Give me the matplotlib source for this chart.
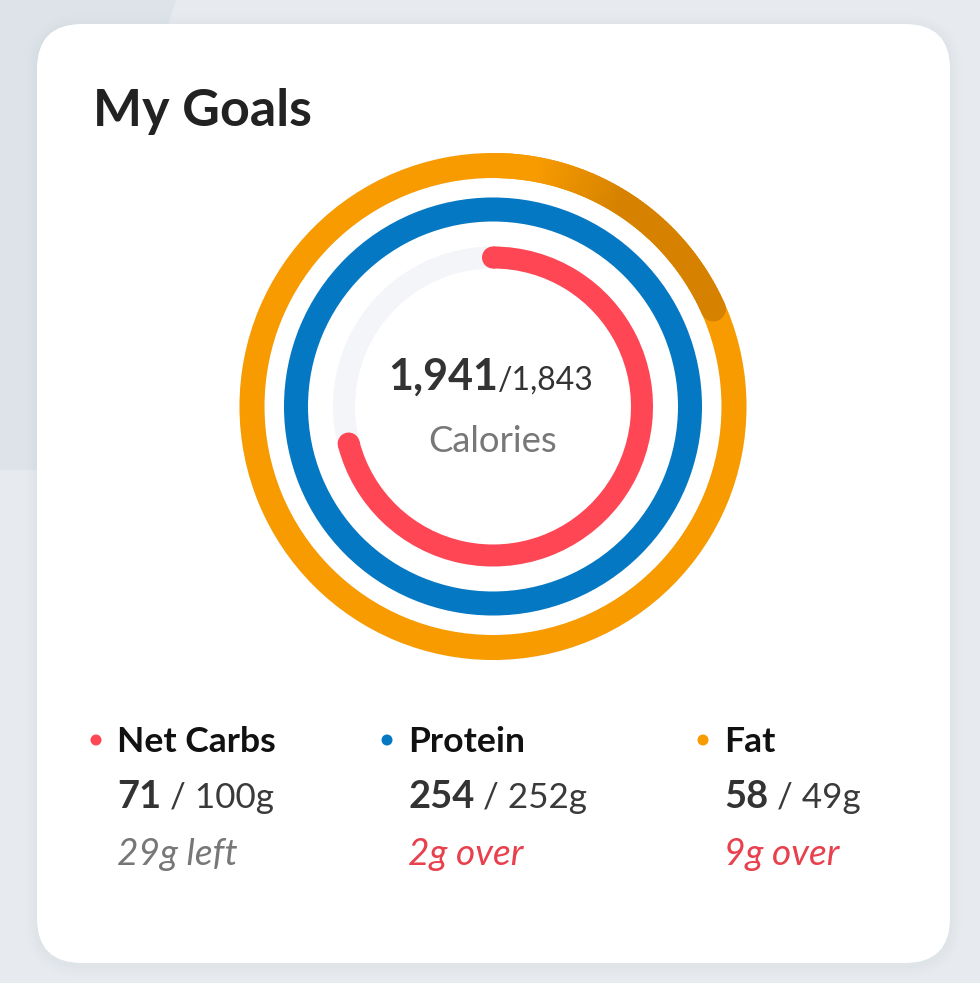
import numpy as np
import matplotlib
matplotlib.use("Agg")
import matplotlib.pyplot as plt
from matplotlib.patches import Wedge, Circle, FancyBboxPatch, Polygon
from matplotlib.colors import to_rgb

# ---------------- data ----------------
title = "My Goals"
nutrients = ["Net Carbs", "Protein", "Fat"]
consumed = [71, 254, 58]
goals = [100, 252, 49]
units = ["g", "g", "g"]
calories_consumed = 1941
calories_goal = 1843
calories_label = "Calories"

# ---------------- style ----------------
ring_colors = ["#FF4654", "#0478C3", "#F79B00"]
ring_dark = ["#D93440", "#035F9C", "#D68200"]
track_color = "#F3F5F9"
FONT = "Lato"

W, H = 980, 983
fig = plt.figure(figsize=(W / 100, H / 100), dpi=100)
fig.patch.set_facecolor("#E7EBEF")
ax = fig.add_axes([0, 0, 1, 1])
ax.set_xlim(0, W)
ax.set_ylim(H, 0)
ax.set_aspect("equal")
ax.axis("off")

PT = 0.72  # points per pixel at dpi 100

# background shapes
ax.add_patch(Polygon([(0, 0), (176, 0), (150, 80), (150, 470), (0, 470)],
                     closed=True, facecolor="#DDE3E9", edgecolor="none", zorder=0))

# card shadow + card
cx0, cy0, cx1, cy1 = 37, 24, 950, 963
for i, a in enumerate([0.018, 0.014, 0.010, 0.006]):
    g = 3 * (i + 1)
    ax.add_patch(FancyBboxPatch((cx0 - g, cy0 - g + 2), cx1 - cx0 + 2 * g, cy1 - cy0 + 2 * g,
                                boxstyle=f"round,pad=0,rounding_size={45 + g}",
                                facecolor="#8090A0", edgecolor="none", alpha=a, zorder=1))
ax.add_patch(FancyBboxPatch((cx0, cy0), cx1 - cx0, cy1 - cy0,
                            boxstyle="round,pad=0,rounding_size=45",
                            facecolor="white", edgecolor="none", zorder=2))

# title
ax.text(93, 126, title, fontsize=52 * PT, fontweight="bold", color="#222222",
        family=FONT, va="baseline", ha="left", zorder=5)

# ---------------- rings ----------------
cx, cy = 493, 406.5
radii = [149, 197, 241]     # mid radius, inner -> outer (carbs, protein, fat)
widths = [22, 24, 25]


def data_angle(phi):
    """visual clockwise angle from 12 o'clock -> data angle (y axis inverted)"""
    return phi - 90.0


def point(r, phi):
    a = np.deg2rad(data_angle(phi))
    return cx + r * np.cos(a), cy + r * np.sin(a)


def arc(r, w, phi0, phi1, color, z):
    ax.add_patch(Wedge((cx, cy), r + w / 2, data_angle(phi0), data_angle(phi1),
                       width=w, facecolor=color, edgecolor="none", zorder=z))
    for ph in (phi0, phi1):
        ax.add_patch(Circle(point(r, ph), w / 2, facecolor=color, edgecolor="none", zorder=z))


for i in range(3):
    r, w = radii[i], widths[i]
    frac = consumed[i] / goals[i]
    base = ring_colors[i]
    # track
    ax.add_patch(Wedge((cx, cy), r + w / 2, 0, 360, width=w, facecolor=track_color,
                       edgecolor="none", zorder=3))
    if frac < 1:
        arc(r, w, 0, frac * 360, base, 4)
    else:
        ax.add_patch(Wedge((cx, cy), r + w / 2, 0, 360, width=w, facecolor=base,
                           edgecolor="none", zorder=4))
        over = frac - 1
        if over > 0.05:
            end = over * 360
            c0, c1 = np.array(to_rgb(base)), np.array(to_rgb(ring_dark[i]))
            n = 80
            edges = np.linspace(0, end, n + 1)
            for k in range(n):
                mid = 0.5 * (edges[k] + edges[k + 1])
                t = np.clip((mid - 10) / 22, 0, 1)
                col = c0 * (1 - t) + c1 * t
                ax.add_patch(Wedge((cx, cy), r + w / 2, data_angle(edges[k]),
                                   data_angle(edges[k + 1]) + 0.3, width=w,
                                   facecolor=col, edgecolor="none", zorder=5))
            ax.add_patch(Circle(point(r, end), w / 2, facecolor=ring_dark[i],
                                edgecolor="none", zorder=5))

# ---------------- center text ----------------
ax.text(498, 390, f"{calories_consumed:,}", fontsize=43 * PT, fontweight="bold",
        color="#333333", family=FONT, ha="right", va="baseline", zorder=6)
ax.text(498, 390, f"/{calories_goal:,}", fontsize=32 * PT, color="#333333",
        family=FONT, ha="left", va="baseline", zorder=6)
ax.text(cx, 452, calories_label, fontsize=36.5 * PT, color="#777777",
        family=FONT, ha="center", va="baseline", zorder=6)

# ---------------- legend columns ----------------
col_x = [117, 408, 724]
fig.canvas.draw()
renderer = fig.canvas.get_renderer()
for i in range(3):
    x = col_x[i]
    ax.add_patch(Circle((x - 21, 740), 5.5, facecolor=ring_colors[i], edgecolor="none", zorder=6))
    ax.text(x, 752, nutrients[i], fontsize=35.5 * PT, fontweight="bold", color="#111111",
            family=FONT, ha="left", va="baseline", zorder=6)
    t = ax.text(x, 808, f"{consumed[i]}", fontsize=38 * PT, fontweight="bold", color="#333333",
                family=FONT, ha="left", va="baseline", zorder=6)
    bb = t.get_window_extent(renderer=renderer)
    x_right = bb.x1  # pixels == data x (axes spans figure)
    ax.text(x_right + 9, 808, f"/ {goals[i]}{units[i]}", fontsize=35 * PT, color="#3A3A3A",
            family=FONT, ha="left", va="baseline", zorder=6)
    diff = goals[i] - consumed[i]
    if diff >= 0:
        s, c = f"{diff}{units[i]} left", "#777777"
    else:
        s, c = f"{-diff}{units[i]} over", "#E8404C"
    ax.text(x, 865, s, fontsize=37 * PT, style="italic", color=c,
            family=FONT, ha="left", va="baseline", zorder=6)

fig.savefig("out.png", dpi=100, facecolor=fig.get_facecolor())
